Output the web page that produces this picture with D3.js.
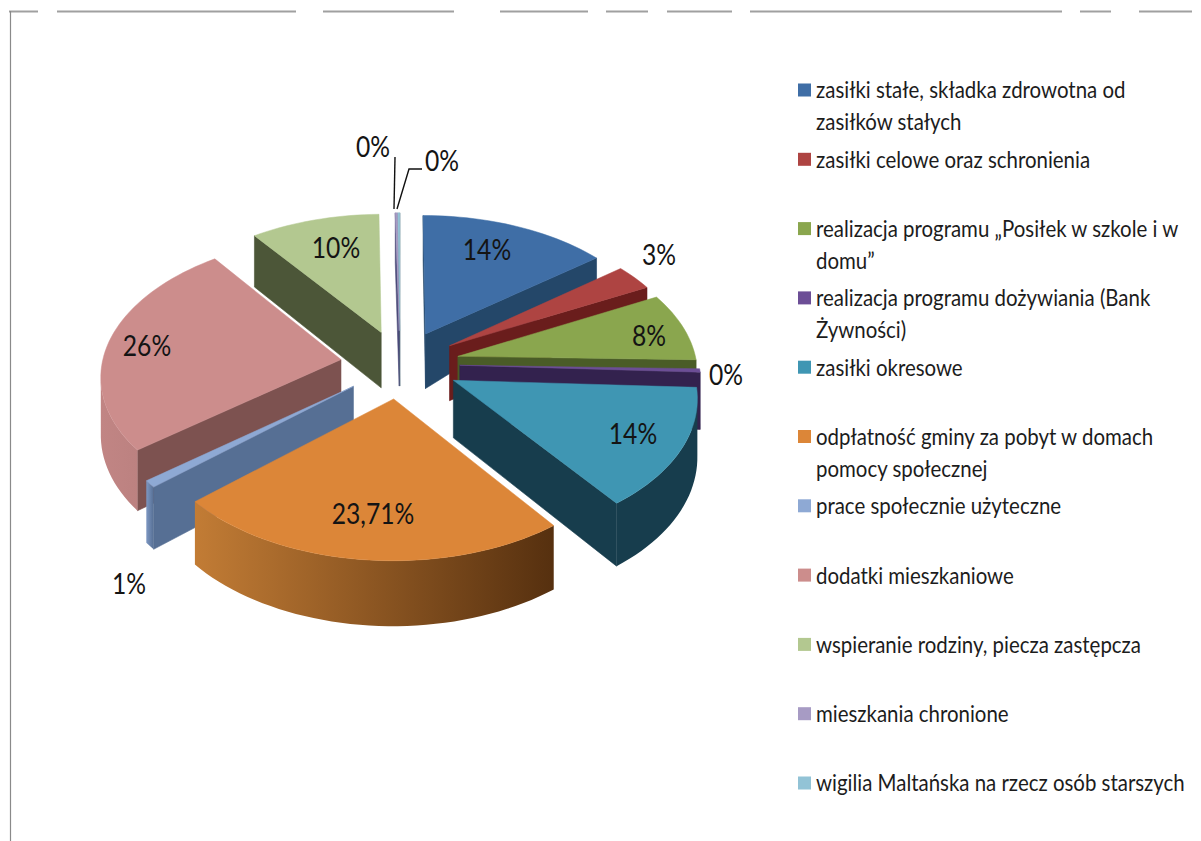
<!DOCTYPE html>
<html><head><meta charset="utf-8">
<script src="https://cdn.jsdelivr.net/npm/d3@7"></script>
<style>html,body{margin:0;padding:0;background:#fff}svg{display:block}</style>
</head><body><svg id="c" width="1201" height="841"></svg>
<script>
const categories = [
  ["zasiłki stałe, składka zdrowotna od","zasiłków stałych"],
  ["zasiłki celowe oraz schronienia"],
  ["realizacja programu „Posiłek w szkole i w","domu”"],
  ["realizacja programu dożywiania (Bank","Żywności)"],
  ["zasiłki okresowe"],
  ["odpłatność gminy za pobyt w domach","pomocy społecznej"],
  ["prace społecznie użyteczne"],
  ["dodatki mieszkaniowe"],
  ["wspieranie rodziny, piecza zastępcza"],
  ["mieszkania chronione"],
  ["wigilia Maltańska na rzecz osób starszych"]
];
const values = [14.4,3,8,0.4,14,23.71,0.8,25.55,9.85,0.15,0.15];
const valueLabels = ["14%","3%","8%","0%","14%","23,71%","1%","26%","10%","0%","0%"];

const topColors  = ["#3f6ea6","#ae4442","#8aa64e","#6c4e96","#3f96b3","#dc8638","#8ea9d4","#cc8d8c","#b3c890","#a79bc4","#92c3d6"];
const cutColors  = ["#244769","#6a1d1c","#4a5c27","#33224e","#173d4d","#7a4a1e","#566f94","#7d5250","#4c5638","#4a4a78","#54707c"];
const wallLeft   = ["#2d5580","#7c2624","#5a7030","#33224e","#173d4d","#c27c35","#7d97c2","#c18584","#7f9163","#6d6490","#6c93a3"];
const wallRight  = ["#1c3c5c","#5e1918","#46581f","#2a1c44","#173d4d","#56300f","#566f94","#b27a79","#4c5638","#4a4a78","#54707c"];

// label layout (page positions of annotation text, not data)
const labelXY = [[487,249],[659,254],[649,335],[726,374],[633,433],[373,513],[129,583],[147,345],[336,247],[373,146],[442,160]];
const leaderA = [[395,157],[394,209]];
const leaderB = [[422,169],[409,169],[397,209]];
const topRule = [[9,38],[57,296],[323,454],[500,588],[606,648],[667,732],[750,1062],[1080,1111],[1139,1192]];

const svg = d3.select("#c");
const FONT = "Lato, Carlito, 'Open Sans', sans-serif";
const defs = svg.append("defs");

// frame
svg.append("g").selectAll("line").data(topRule).join("line")
  .attr("x1",d=>d[0]).attr("x2",d=>d[1]).attr("y1",11.5).attr("y2",11.5)
  .attr("stroke","#a0a0a0").attr("stroke-width",2);
svg.append("line").attr("x1",10.5).attr("x2",10.5).attr("y1",11).attr("y2",841)
  .attr("stroke","#8a8a8a").attr("stroke-width",1.2);

// perspective projection of the pie disc
const cx=400, cy=364, D=9.5, F=2270, A=1300, H=540, EXPLODE=0.25, TILT=0.7;
function project(u,v,z){
  const s=1/(D-v);
  const zz=z*(1-TILT*Math.max(0,u)*Math.max(0,-v));
  return [cx+F*u*s, cy+A*v*s+H*zz*s];
}

const arcs = d3.pie().sort(null).value(d=>d).startAngle(0).endAngle(2*Math.PI)(values);
const line = d3.line();

const slices = arcs.map((a,i)=>{
  const mid=(a.startAngle+a.endAngle)/2;
  const ox=EXPLODE*Math.sin(mid), oy=-EXPLODE*Math.cos(mid);
  const n=Math.max(2,Math.ceil((a.endAngle-a.startAngle)/(Math.PI/90)));
  const angs=d3.range(n+1).map(k=>a.startAngle+(a.endAngle-a.startAngle)*k/n);
  const rim=z=>angs.map(t=>project(ox+Math.sin(t),oy-Math.cos(t),z));
  return {i,mid,depth:oy,apexT:project(ox,oy,0),apexB:project(ox,oy,1),rimT:rim(0),rimB:rim(1),midPt:project(ox+0.7*Math.sin(mid),oy-0.7*Math.cos(mid),0)};
}).sort((p,q)=>p.depth-q.depth);

const pieG=svg.append("g");
slices.forEach(s=>{
  const g=pieG.append("g");
  const last=s.rimT.length-1;
  const cuts=[[s.rimT[0],s.rimB[0]],[s.rimT[last],s.rimB[last]]];
  cuts.forEach(([rt,rb])=>{
    let p=s.apexT,q=rt;
    if(p[0]>q[0]){const t=p;p=q;q=t;}
    const cross=(q[0]-p[0])*(s.midPt[1]-p[1])-(q[1]-p[1])*(s.midPt[0]-p[0]);
    if(cross<0){
      g.append("path").attr("d",line([s.apexT,rt,rb,s.apexB])+"Z")
        .attr("fill",cutColors[s.i]).attr("stroke",cutColors[s.i]).attr("stroke-width",0.6);
    }
  });
  // outer wall: the front-facing run of the rim, one shape with a horizontal gradient
  const vis=d3.range(last+1).filter(k=>
    (k<last && s.rimT[k+1][0]<s.rimT[k][0]) || (k>0 && s.rimT[k][0]<s.rimT[k-1][0]));
  if(vis.length>1){
    const x0=d3.min(s.rimT,d=>d[0]), x1=d3.max(s.rimT,d=>d[0]);
    const id="wall"+s.i;
    const lg=defs.append("linearGradient").attr("id",id).attr("gradientUnits","userSpaceOnUse")
      .attr("x1",x0).attr("x2",x1).attr("y1",0).attr("y2",0);
    lg.append("stop").attr("offset",0).attr("stop-color",wallLeft[s.i]);
    lg.append("stop").attr("offset",1).attr("stop-color",wallRight[s.i]);
    const pts=[...vis.map(k=>s.rimT[k]),...vis.slice().reverse().map(k=>s.rimB[k])];
    g.append("path").attr("d",line(pts)+"Z").attr("fill",`url(#${id})`);
  }
  g.append("path").attr("d",line([s.apexT,...s.rimT])+"Z").attr("fill",topColors[s.i])
    .attr("stroke",topColors[s.i]).attr("stroke-width",0.5).attr("stroke-linejoin","round");
});

// leader lines
svg.append("g").selectAll("path").data([leaderA,leaderB]).join("path")
  .attr("d",d=>line(d)).attr("fill","none").attr("stroke","#111").attr("stroke-width",1.4);

// value labels
svg.append("g").selectAll("text").data(valueLabels).join("text")
  .attr("transform",(d,i)=>`translate(${labelXY[i][0]},${labelXY[i][1]}) scale(0.85,1)`)
  .attr("text-anchor","middle").attr("dominant-baseline","central")
  .attr("font-family",FONT).attr("font-size",29).attr("fill","#141414").text(d=>d);

// legend
const ly=d3.scaleLinear().domain([0,categories.length-1]).range([90,783]);
const leg=svg.append("g").selectAll("g").data(categories).join("g")
  .attr("transform",(d,i)=>`translate(0,${ly(i)})`);
leg.append("rect").attr("x",798).attr("y",-6.5).attr("width",13).attr("height",13).attr("fill",(d,i)=>topColors[i]);
leg.selectAll("text").data(d=>d).join("text")
  .attr("transform",(d,i)=>`translate(816,${i*32}) scale(0.888,1)`).attr("dominant-baseline","central")
  .attr("font-family",FONT).attr("font-size",23).attr("fill","#1c1c1c").text(d=>d);
</script></body></html>
